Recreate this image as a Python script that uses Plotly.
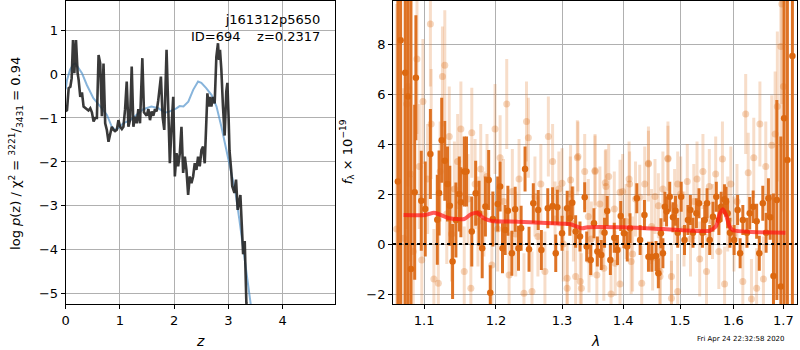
import plotly.graph_objects as go

# ---------------- left panel: log p(z) ----------------
z_pz = [0.0, 0.024, 0.055, 0.086, 0.11, 0.135, 0.159, 0.19, 0.22, 0.239, 0.269, 0.3, 0.33, 0.36, 0.391,
        0.42, 0.453, 0.483, 0.514, 0.545, 0.575, 0.606, 0.636, 0.667, 0.697, 0.728, 0.758, 0.789, 0.82,
        0.85, 0.881, 0.91, 0.942, 0.972, 1.003, 1.035, 1.064, 1.095, 1.125, 1.156, 1.186, 1.217, 1.248,
        1.278, 1.309, 1.339, 1.37, 1.413, 1.443, 1.492, 1.525, 1.554, 1.584, 1.615, 1.646, 1.676, 1.706,
        1.755, 1.786, 1.817, 1.859, 1.89, 1.92, 1.951, 1.982, 2.012, 2.043, 2.073, 2.104, 2.134, 2.165,
        2.196, 2.226, 2.257, 2.287, 2.318, 2.349, 2.379, 2.41, 2.44, 2.471, 2.502, 2.532, 2.563, 2.593,
        2.612, 2.636, 2.661, 2.685, 2.716, 2.746, 2.777, 2.807, 2.826, 2.844, 2.869, 2.899, 2.93, 2.96,
        2.98, 3.003, 3.02, 3.05, 3.07, 3.11, 3.14, 3.17, 3.22, 3.25, 3.27, 3.30, 3.33, 3.36]
logp = [-0.85, -0.82, -0.32, -0.29, -0.1, 0.77, 0.02, 0.77, 0.02, -0.14, -0.52, -0.42, -0.74, -0.78, -0.8,
        -0.83, -0.78, -0.87, -1.08, -1.0, -1.0, 0.43, 0.24, -0.96, 0.24, -1.12, -1.27, -1.54, -1.35,
        -1.2, -1.27, -1.3, -1.27, -1.05, -1.2, -1.25, -1.2, -0.8, -0.17, -1.2, -1.05, 0.17, -1.2,
        -0.97, -1.12, -0.8, -1.12, 0.36, -0.87, -0.95, -0.8, -1.05, -0.85, -0.95, -0.8, -0.85, -0.6,
        -0.06, -0.97, -1.27, 0.55, -0.88, -2.03, -1.2, -0.52, -2.33, -1.8, -2.1, -1.8, -1.2, -2.25,
        -1.88, -2.18, -2.75, -2.33, -2.48, -2.33, -2.03, -2.18, -1.88, -2.1, -1.73, -1.65, -2.03, -1.12,
        -0.44, -0.74, -0.52, -0.74, -0.52, -0.67, 0.39, 0.7, 0.32, 0.55, 0.1, -0.74, -1.4, -0.4,
        -0.2, -1.0, -1.75, -2.18, -2.55, -2.7, -2.4, -3.09, -2.75, -3.55, -4.1, -3.8, -5.2, -5.6]

z_prior = [0.0, 0.024, 0.08, 0.14, 0.18, 0.24, 0.3, 0.39, 0.51, 0.64, 0.76, 0.85, 0.91, 0.97, 1.06, 1.19,
           1.31, 1.43, 1.58, 1.71, 1.83, 1.92, 2.04, 2.1, 2.17, 2.26, 2.35, 2.44, 2.5, 2.59, 2.69, 2.78,
           2.87, 2.96, 3.04, 3.13, 3.2, 3.3, 3.41, 3.45]
prior = [-0.35, -0.14, 0.1, 0.22, 0.24, 0.12, 0.02, -0.25, -0.55, -0.74, -0.93, -1.2, -1.27, -1.23, -1.12,
         -1.05, -0.93, -0.8, -0.74, -0.78, -0.88, -0.85, -0.78, -0.73, -0.74, -0.63, -0.36, -0.17, -0.2,
         -0.32, -0.48, -0.74, -1.2, -1.73, -2.25, -2.7, -3.3, -4.2, -5.2, -5.6]

# ---------------- right panel: spectrum ----------------
dark_wave = [1.0655, 1.069, 1.075, 1.0786, 1.0825, 1.0874, 1.089, 1.0961, 1.1014, 1.1083, 1.1176, 1.12, 1.1236,
             1.1278, 1.1315, 1.1347, 1.1385, 1.1431, 1.1478, 1.15, 1.1547, 1.1579, 1.1653, 1.1708, 1.1756,
             1.1801, 1.1847, 1.1894, 1.1917, 1.1954, 1.2025, 1.206, 1.2095, 1.2134, 1.2174, 1.2233, 1.2282,
             1.2332, 1.2371, 1.243, 1.249, 1.2555, 1.263, 1.2678, 1.2777, 1.2852, 1.2901, 1.2926, 1.3,
             1.3081, 1.3123, 1.3162, 1.3216, 1.3286, 1.3362, 1.3394, 1.3459, 1.3513, 1.3568, 1.3633, 1.3687,
             1.3731, 1.3784, 1.3849, 1.3903, 1.3958, 1.4012, 1.4069, 1.4116, 1.4233, 1.429, 1.4365, 1.4435,
             1.4494, 1.4569, 1.4609, 1.4655, 1.469, 1.4725, 1.4755, 1.4812, 1.487, 1.4916, 1.4956, 1.5019,
             1.508, 1.5142, 1.5187, 1.5235, 1.5299, 1.5347, 1.5411, 1.5454, 1.5497, 1.5547, 1.5609, 1.5672,
             1.5721, 1.5765, 1.5827, 1.5858, 1.5888, 1.5933, 1.6014, 1.6082, 1.6131, 1.6184, 1.6265, 1.632,
             1.6388, 1.6457, 1.651, 1.658, 1.6647, 1.6694, 1.6729, 1.6796, 1.6865, 1.6947, 1.7014, 1.7082,
             1.7186]
dark_flux = [2.5, 8.15, 6.85, 5.9, -1.0, 2.07, 6.65, 1.73, 1.4, 3.6, 0.97, 2.04, 4.15,
             3.33, 2.4, 1.53, -0.7, 0.96, 2.0, 1.67, 2.9, 2.9, 0.5, 2.03, 1.23,
             -0.17, 1.5, 2.56, -1.95, 1.0, 1.6, 2.3, -0.17, 0.56, 1.33, -0.37, 1.39,
             -0.17, 0.63, 3.0, -0.21, 1.63, 1.36, -0.24, 1.43, 1.52, -0.37, 1.47, 0.43,
             1.43, 1.03, 1.65, 0.5, 0.3, 1.87, -0.1, -0.64, 0.83, -0.3, -0.44, 0.45,
             1.32, -0.64, 0.25, -0.24, 1.12, 0.43, -0.1, 0.63, 1.83, 0.16, 1.16, -0.51,
             -0.51, -0.48, -1.17, 0.43, -0.37, 1.49, 1.3, 1.89, 1.07, 1.33, 0.45, 1.89,
             0.16, 0.96, 1.36, 0.45, 1.23, 1.63, 0.45, 0.96, 1.63, 0.16, 1.09, 1.89,
             0.96, 1.49, 1.79, 1.69, 1.23, 0.45, 0.16, 1.36, -0.37, 0.96, 0.45, 1.23,
             1.49, 0.91, -0.37, 1.63, 0.45, 1.83, 1.07, -1.28, 1.76, -1.7, 5.03, 3.36,
             7.52]
dark_err = [15.0, 15.0, 15.0, 15.0, 15.0, 3.5, 2.5, 2.0, 1.9, 1.8, 1.8, 1.7, 1.7,
            1.6, 1.5, 1.6, 1.5, 1.5, 1.5, 1.4, 1.4, 1.4, 1.4, 1.3, 1.3,
            1.2, 1.2, 1.2, 1.1, 1.1, 1.1, 1.0, 1.0, 1.0, 1.0, 0.9, 0.9,
            0.9, 0.9, 0.9, 0.9, 0.8, 0.8, 0.8, 0.8, 0.75, 0.75, 0.7, 0.7,
            0.7, 0.7, 0.65, 0.65, 0.6, 0.6, 0.6, 0.6, 0.6, 0.6, 0.6, 0.6,
            0.6, 0.6, 0.6, 0.6, 0.6, 0.6, 0.6, 0.6, 0.6, 0.6, 0.6, 0.6,
            0.6, 0.6, 0.6, 0.6, 0.6, 0.6, 0.6, 0.6, 0.6, 0.6, 0.6, 0.6,
            0.6, 0.6, 0.6, 0.6, 0.6, 0.6, 0.6, 0.6, 0.6, 0.6, 0.6, 0.6,
            0.6, 0.6, 0.6, 0.6, 0.6, 0.6, 0.6, 0.6, 0.6, 0.6, 0.6, 0.65,
            0.65, 0.7, 0.7, 0.7, 0.8, 0.8, 0.9, 3.3, 4.0, 6.0, 15.0, 15.0,
            15.0]

light_wave = [1.064, 1.0729, 1.077, 1.0786, 1.082, 1.0855, 1.0904, 1.0935, 1.0968, 1.0983, 1.1045, 1.1083,
              1.1093, 1.113, 1.119, 1.1215, 1.1246, 1.1278, 1.1305, 1.1339, 1.137, 1.141, 1.1455, 1.15,
              1.1547, 1.16, 1.164, 1.1653, 1.17, 1.174, 1.178, 1.1825, 1.187, 1.194, 1.1986, 1.2025,
              1.206, 1.211, 1.2157, 1.2192, 1.224, 1.229, 1.234, 1.2414, 1.2452, 1.248, 1.2535, 1.258,
              1.2625, 1.267, 1.2733, 1.2786, 1.2852, 1.289, 1.295, 1.302, 1.3081, 1.313, 1.318, 1.3243,
              1.329, 1.3362, 1.342, 1.347, 1.353, 1.356, 1.361, 1.366, 1.371, 1.3795, 1.385, 1.3946,
              1.399, 1.405, 1.41, 1.416, 1.421, 1.4318, 1.437, 1.4435, 1.449, 1.455, 1.4639, 1.469,
              1.478, 1.4843, 1.49, 1.4956, 1.501, 1.507, 1.513, 1.519, 1.525, 1.531, 1.536, 1.542,
              1.5487, 1.554, 1.56, 1.566, 1.572, 1.5789, 1.583, 1.589, 1.595, 1.601, 1.607, 1.6184,
              1.624, 1.629, 1.6354, 1.64, 1.6457, 1.6522, 1.6593, 1.664, 1.676, 1.683, 1.6875, 1.6947,
              1.6967, 1.70,
              1.3253, 1.353, 1.3756, 1.37, 1.4435, 1.478, 1.308, 1.3216, 1.3308, 1.3432, 1.3675, 1.3865,
              1.4136, 1.4508, 1.4639, 1.4843, 1.4109, 1.4283, 1.461, 1.4956, 1.3946, 1.3135, 1.30]
light_flux = [0.6, 0.23, 5.6, 6.3, 2.8, -0.3, 7.4, 3.1, -0.64, 5.7, 2.6, 8.8,
              4.8, -1.4, -1.57, 2.9, 6.7, 7.15, 1.2, 4.3, 0.4, 2.2, 3.3, 4.6,
              -1.1, 1.8, -1.77, 4.45, 2.4, 0.9, 3.0, 1.2, 2.7, -0.84, 4.6, 0.6,
              3.45, 1.7, 5.6, -1.24, 2.1, 0.4, 2.6, -1.97, 4.9, 4.25, -1.9, 1.9,
              0.3, 2.4, -1.1, 4.3, 3.3, 1.0, 2.2, 0.0, -1.77, 2.0, 0.8, 3.45,
              -1.5, 2.9, 1.1, 0.2, 2.9, -1.24, 1.6, 0.5, 2.3, -2.0, 1.4, -1.6,
              2.1, 0.9, 2.6, -0.4, 1.8, -1.57, 2.4, 3.2, 0.7, 1.9, -1.1, 2.2,
              3.4, -2.17, 1.5, -1.9, 2.0, 0.6, 2.5, 0.2, 1.7, 2.6, -0.6, 2.9,
              -1.1, 2.3, 0.9, 2.8, -0.3, 3.4, -1.6, 1.2, 2.4, 0.4, 1.7, -1.5,
              5.2, 2.85, -2.2, 3.45, -1.77, 4.8, -1.4, 3.1, 3.95, 4.4, 5.5, 7.9,
              9.6, 6.3,
              3.5, 2.94, 2.7, 2.45, 3.23, 3.43, -1.37, -1.3, -1.77, -0.64, -0.97, -0.77,
              -0.7, -0.56, -1.3, -1.3, 2.4, 1.87, 1.53, 2.4, 2.07, 2.56, 2.43]
light_err = [9.0, 6.0, 5.0, 4.0, 3.5, 3.0, 3.0, 2.5, 2.2, 2.5, 2.2, 2.5,
             2.2, 2.0, 2.0, 2.0, 2.0, 2.2, 2.0, 2.0, 1.9, 1.9, 1.9, 1.9,
             1.8, 1.8, 1.8, 1.8, 1.8, 1.8, 1.8, 1.7, 1.7, 1.7, 1.8, 1.7,
             1.7, 1.7, 1.8, 1.7, 1.7, 1.7, 1.6, 1.6, 1.6, 1.6, 1.6, 1.6,
             1.6, 1.6, 1.6, 1.6, 1.5, 1.5, 1.5, 1.5, 1.5, 1.5, 1.5, 1.5,
             1.5, 1.5, 1.5, 1.5, 1.5, 1.5, 1.5, 1.5, 1.5, 1.5, 1.5, 1.5,
             1.5, 1.5, 1.5, 1.5, 1.5, 1.5, 1.5, 1.5, 1.5, 1.5, 1.5, 1.5,
             1.5, 1.5, 1.5, 1.5, 1.5, 1.5, 1.5, 1.5, 1.5, 1.5, 1.5, 1.5,
             1.5, 1.5, 1.5, 1.5, 1.5, 1.5, 1.5, 1.5, 1.5, 1.5, 1.5, 1.5,
             1.6, 1.6, 1.6, 1.6, 1.6, 1.7, 1.7, 1.8, 2.0, 2.5, 3.0, 4.0,
             4.0, 5.0,
             1.4, 1.4, 1.3, 1.3, 1.3, 1.3, 1.4, 1.4, 1.4, 1.3, 1.3, 1.3,
             1.3, 1.3, 1.3, 1.3, 1.3, 1.3, 1.3, 1.3, 1.3, 1.4, 1.4]

model_wave = [1.0729, 1.1014, 1.113, 1.12, 1.1339, 1.1547, 1.164, 1.1732, 1.1825, 1.194, 1.2332, 1.3026,
              1.3135, 1.3325, 1.3406, 1.4, 1.4696, 1.5547, 1.5672, 1.5734, 1.5796, 1.5858, 1.592, 1.5982,
              1.7041]
model_flux = [1.16, 1.16, 1.25, 1.19, 1.03, 1.0, 1.19, 1.25, 1.03, 0.92, 0.89, 0.81,
              0.79, 0.63, 0.67, 0.67, 0.6, 0.53, 0.73, 1.19, 1.39, 1.16, 0.73, 0.56,
              0.45]

left_xticks = [0, 1, 2, 3, 4]
left_yticks = [-5, -4, -3, -2, -1, 0, 1]
right_xticks = [1.1, 1.2, 1.3, 1.4, 1.5, 1.6, 1.7]
right_yticks = [-2, 0, 2, 4, 6, 8]

FONT = "DejaVu Sans"
ORANGE = "rgb(220,104,16)"
ORANGE_L = "rgba(220,104,16,0.28)"

fig = go.Figure()

fig.add_trace(go.Scatter(x=z_prior, y=prior, mode="lines",
                         line=dict(color="rgba(70,140,200,0.65)", width=2),
                         xaxis="x", yaxis="y", showlegend=False))
fig.add_trace(go.Scatter(x=z_pz, y=logp, mode="lines",
                         line=dict(color="rgba(35,35,35,0.9)", width=2.6),
                         xaxis="x", yaxis="y", showlegend=False))

fig.add_trace(go.Scatter(x=light_wave, y=light_flux, mode="markers",
                         marker=dict(color=ORANGE_L, size=7),
                         error_y=dict(type="data", array=light_err, color="rgba(225,120,40,0.25)",
                                      thickness=3, width=0),
                         xaxis="x2", yaxis="y2", showlegend=False))
fig.add_trace(go.Scatter(x=dark_wave, y=dark_flux, mode="markers",
                         marker=dict(color=ORANGE, size=6.5),
                         error_y=dict(type="data", array=dark_err, color="rgba(220,108,25,0.95)",
                                      thickness=3, width=0),
                         xaxis="x2", yaxis="y2", showlegend=False))
fig.add_trace(go.Scatter(x=model_wave, y=model_flux, mode="lines",
                         line=dict(color="rgba(255,20,20,0.7)", width=4, shape="spline", smoothing=0.6),
                         xaxis="x2", yaxis="y2", showlegend=False))

axis_common = dict(showline=True, mirror=True, linecolor="black", linewidth=1,
                   ticks="outside", ticklen=4, tickcolor="black", tickwidth=1,
                   showgrid=True, gridcolor="#b0b0b0", gridwidth=1, zeroline=False,
                   tickfont=dict(family=FONT, size=13, color="black"))

fig.update_layout(
    width=800, height=350,
    margin=dict(l=0, r=0, t=0, b=0),
    paper_bgcolor="white", plot_bgcolor="white",
    xaxis=dict(domain=[62/800, 333/800], range=[0, 4.97], tickvals=left_xticks,
               anchor="y", **axis_common),
    yaxis=dict(domain=[1 - 304/350, 1 - 1/350], range=[-5.23, 1.66], tickvals=left_yticks,
               anchor="x", **axis_common),
    xaxis2=dict(domain=[391/800, 797/800], type="log", range=[0.0250, 0.2376],
                tickvals=right_xticks, ticktext=[str(v) for v in right_xticks],
                anchor="y2", **axis_common),
    yaxis2=dict(domain=[1 - 304/350, 1 - 1/350], range=[-2.4, 9.72], tickvals=right_yticks,
                anchor="x2", **axis_common),
    shapes=[dict(type="line", xref="x2 domain", yref="y2", x0=0, x1=1, y0=0, y1=0,
                 line=dict(color="black", width=2, dash="dot"), layer="above")],
    annotations=[
        dict(text="j161312p5650<br>ID=694\u00a0\u00a0\u00a0\u00a0z=0.2317", xref="paper", yref="paper",
             x=320/800, y=1 - 10/350, xanchor="right", yanchor="top", align="right", showarrow=False,
             font=dict(family=FONT, size=13, color="black")),
        dict(text="log <i>p</i>(z) / χ<sup>2</sup> = <sup>3221</sup>/<sub>3431</sub> = 0.94",
             xref="paper", yref="paper", x=12/800, y=1 - 153/350, textangle=-90,
             xanchor="center", yanchor="middle", showarrow=False,
             font=dict(family=FONT, size=13, color="black")),
        dict(text="<i>z</i>", xref="paper", yref="paper", x=197/800, y=1 - 341/350,
             xanchor="center", yanchor="middle", showarrow=False,
             font=dict(family=FONT, size=14, color="black")),
        dict(text="<i>λ</i>", xref="paper", yref="paper", x=594/800, y=1 - 341/350,
             xanchor="center", yanchor="middle", showarrow=False,
             font=dict(family=FONT, size=14, color="black")),
        dict(text="<i>f</i><sub>λ</sub> × 10<sup>−19</sup>", xref="paper", yref="paper",
             x=345/800, y=1 - 152/350, textangle=-90, xanchor="center", yanchor="middle",
             showarrow=False, font=dict(family=FONT, size=13, color="black")),
        dict(text="Fri Apr 24 22:32:58 2020", xref="paper", yref="paper", x=787/800, y=1 - 339/350,
             xanchor="right", yanchor="middle", showarrow=False,
             font=dict(family=FONT, size=7, color="black")),
    ],
)

fig.write_html("out.html", config={"displayModeBar": False},
               post_script="document.body.style.margin='0';document.body.style.overflow='hidden';")
